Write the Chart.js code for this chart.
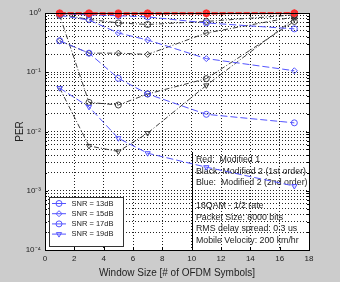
<!DOCTYPE html>
<html><head><meta charset="utf-8">
<script src="https://cdn.jsdelivr.net/npm/chart.js@4.4.0/dist/chart.umd.min.js"></script>
<style>html,body{margin:0;padding:0;background:#fff;}canvas{display:block;}</style>
</head><body>
<canvas id="c" width="344" height="290"></canvas>
<script>
// ---- data ----
const windowSizes = [1, 3, 5, 7, 11, 17];
const snrLabels = ['SNR = 13dB', 'SNR = 15dB', 'SNR = 17dB', 'SNR = 19dB'];
// Red: Modified 1
const red13 = [1.0, 1.0, 1.0, 1.0, 1.0, 1.0];
const red15 = [0.99, 0.99, 0.98, 0.99, 0.99, 1.0];
const red17 = [0.98, 0.98, 0.96, 0.97, 0.98, 0.99];
const red19 = [0.97, 0.97, 0.94, 0.96, 0.97, 0.98];
// Black: Modified 2 (1st order)
const black13 = [0.95, 0.78, 0.68, 0.64, 0.72, 0.93];
const black15 = [0.34, 0.21, 0.21, 0.20, 0.46, 0.86];
const black17 = [0.91, 0.031, 0.028, 0.043, 0.078, 0.72];
const black19 = [0.054, 0.0057, 0.0046, 0.0094, 0.06, 0.80];
// Blue: Modified 2 (2nd order)
const blue13 = [0.97, 0.93, 0.90, 0.86, 0.68, 0.54];
const blue15 = [0.91, 0.76, 0.46, 0.35, 0.17, 0.106];
const blue17 = [0.34, 0.21, 0.079, 0.043, 0.0195, 0.014];
const blue19 = [0.054, 0.026, 0.0077, 0.0043, 0.0025, 0.0012];
const xTickValues = [0, 2, 4, 6, 8, 10, 12, 14, 16, 18];
const yDecadeLabels = ['10\u207B\u2074', '10\u207B\u00B3', '10\u207B\u00B2', '10\u207B\u00B9', '10\u2070'];
const xTitle = 'Window Size [# of OFDM Symbols]';
const yTitle = 'PER';
const noteLines = ['Red:  Modified 1', 'Black: Modified 2 (1st order)', 'Blue:  Modified 2 (2nd order)', '',
  '16QAM - 1/2 rate', 'Packet Size: 8000 bits', 'RMS delay spread: 0.3 us', 'Mobile Velocity: 200 km/hr'];

// ---- styles ----
const RED = '#ff2a2a', BLACK = '#2a2a2a', BLUE = '#5555ff';
const markerStyles = [['circle', 0], ['rectRot', 0], ['circle', 0], ['triangle', 180]];
const FONT = '"Liberation Sans", Arial, sans-serif';

function ds(values, color, dash, styleIdx, width, pw) {
  return {
    data: windowSizes.map((x, i) => ({ x: x, y: values[i] })),
    borderColor: color, borderWidth: width, borderDash: dash,
    pointStyle: markerStyles[styleIdx][0], pointRotation: markerStyles[styleIdx][1],
    pointRadius: 3, pointBorderColor: color, pointBackgroundColor: 'rgba(0,0,0,0)',
    pointBorderWidth: pw, fill: false, tension: 0, clip: false
  };
}
const datasets = [
  ds(red13, RED, [6, 2], 0, 1.3, 1.2), ds(red15, RED, [6, 2], 1, 1.3, 1.2),
  ds(red17, RED, [6, 2], 2, 1.3, 1.2), ds(red19, RED, [6, 2], 3, 1.3, 1.2),
  ds(blue13, BLUE, [7, 3], 0, 1, 1), ds(blue15, BLUE, [7, 3], 1, 1, 1),
  ds(blue17, BLUE, [7, 3], 2, 1, 1), ds(blue19, BLUE, [7, 3], 3, 1, 1),
  ds(black13, BLACK, [5, 2, 1, 2], 0, 0.9, 0.9), ds(black15, BLACK, [5, 2, 1, 2], 1, 0.9, 0.9),
  ds(black17, BLACK, [5, 2, 1, 2], 2, 0.9, 0.9), ds(black19, BLACK, [5, 2, 1, 2], 3, 0.9, 0.9)
];

function isDecade(v) { const l = Math.log10(v); return Math.abs(l - Math.round(l)) < 1e-9; }

function drawMarker(c, style, rot, x, y, r) {
  c.beginPath();
  if (style === 'circle') { c.arc(x, y, r, 0, Math.PI * 2); }
  else if (style === 'rectRot') { c.moveTo(x, y - r); c.lineTo(x + r, y); c.lineTo(x, y + r); c.lineTo(x - r, y); c.closePath(); }
  else { const s = rot === 180 ? -1 : 1; c.moveTo(x, y - s * r); c.lineTo(x + r * 0.87, y + s * r * 0.5); c.lineTo(x - r * 0.87, y + s * r * 0.5); c.closePath(); }
  c.stroke();
}

const framePlugin = {
  id: 'frame',
  beforeDraw(chart) {
    const c = chart.ctx, a = chart.chartArea;
    c.save();
    c.fillStyle = '#ffffff'; c.fillRect(0, 0, chart.width, chart.height);
    c.fillStyle = '#cccccc'; c.fillRect(0, 0, 340, 282);
    c.fillStyle = '#ffffff'; c.fillRect(a.left, a.top, a.right - a.left, a.bottom - a.top);
    c.restore();
  },
  beforeDatasetsDraw(chart) {
    const c = chart.ctx, a = chart.chartArea, xs = chart.scales.x, ys = chart.scales.y;
    c.save();
    c.strokeStyle = '#000'; c.lineWidth = 1;
    xTickValues.forEach(v => {
      const px = Math.round(xs.getPixelForValue(v)) + 0.5;
      c.beginPath(); c.moveTo(px, a.bottom); c.lineTo(px, a.bottom - 3); c.moveTo(px, a.top); c.lineTo(px, a.top + 3); c.stroke();
    });
    ys.ticks.forEach(t => {
      const py = Math.round(ys.getPixelForValue(t.value)) + 0.5;
      const L = isDecade(t.value) ? 3 : 2;
      c.beginPath(); c.moveTo(a.left, py); c.lineTo(a.left + L, py); c.moveTo(a.right, py); c.lineTo(a.right - L, py); c.stroke();
    });
    c.beginPath(); c.moveTo(192.5, 152); c.lineTo(192.5, a.bottom); c.stroke();
    c.fillStyle = '#222'; c.font = '8.8px ' + FONT; c.textBaseline = 'middle'; c.textAlign = 'left';
    noteLines.forEach((t, i) => { if (t) c.fillText(t, 196, 160 + i * 11.5); });
    c.restore();
  },
  afterDraw(chart) {
    const c = chart.ctx, a = chart.chartArea;
    c.save();
    c.strokeStyle = '#000'; c.lineWidth = 1;
    c.strokeRect(Math.round(a.left) + 0.5, Math.round(a.top) + 0.5, Math.round(a.right - a.left), Math.round(a.bottom - a.top));
    c.fillStyle = '#fff'; c.fillRect(49, 197, 74, 49);
    c.strokeStyle = '#333'; c.strokeRect(49.5, 197.5, 74, 49);
    c.font = '7.5px ' + FONT; c.textBaseline = 'middle'; c.fillStyle = '#222';
    snrLabels.forEach((lab, i) => {
      const y = 203.5 + i * 10.2;
      c.strokeStyle = BLUE; c.lineWidth = 1;
      c.beginPath(); c.moveTo(52, y); c.lineTo(66, y); c.stroke();
      drawMarker(c, markerStyles[i][0], markerStyles[i][1], 59, y, 3);
      c.fillText(lab, 71.5, y);
    });
    c.restore();
  }
};

new Chart(document.getElementById('c'), {
  type: 'line',
  data: { datasets: datasets },
  plugins: [framePlugin],
  options: {
    responsive: false, animation: false, devicePixelRatio: 1,
    layout: { padding: { left: 0, top: 13, right: 35, bottom: 0 } },
    plugins: { legend: { display: false }, tooltip: { enabled: false } },
    scales: {
      x: {
        type: 'linear', min: 0, max: 18,
        afterFit(s) { s.height = 40; },
        afterBuildTicks(s) { s.ticks = xTickValues.map(v => ({ value: v })); },
        ticks: { autoSkip: false, maxRotation: 0, padding: 4, color: '#222', font: { family: FONT, size: 8 }, callback: v => String(v) },
        grid: { color: '#222', lineWidth: 1, drawTicks: false },
        border: { display: false, dash: [1, 2] },
        title: { display: true, text: xTitle, color: '#222', font: { family: FONT, size: 10 }, padding: { top: 0, bottom: 11 } }
      },
      y: {
        type: 'logarithmic', min: 1e-4, max: 1,
        afterFit(s) { s.width = 45; },
        afterBuildTicks(s) {
          const t = [];
          for (let e = -4; e <= 0; e++) for (let k = 1; k <= 9; k++) { if (e === 0 && k > 1) break; t.push({ value: k * Math.pow(10, e) }); }
          s.ticks = t;
        },
        ticks: {
          autoSkip: false, padding: 4, color: '#222', font: { family: FONT, size: 8 },
          callback: v => isDecade(v) ? yDecadeLabels[Math.round(Math.log10(v)) + 4] : ''
        },
        grid: { color: '#222', lineWidth: 1, drawTicks: false },
        border: { display: false, dash: [1, 2] },
        title: { display: true, text: yTitle, color: '#222', font: { family: FONT, size: 10 }, padding: { top: 14, bottom: 0 } }
      }
    }
  }
});
</script>
</body></html>
